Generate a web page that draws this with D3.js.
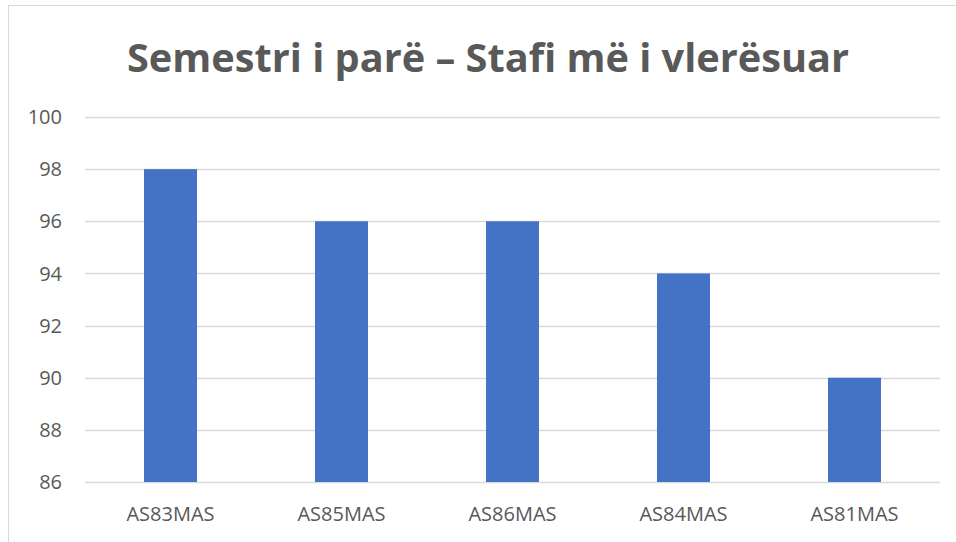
<!DOCTYPE html>
<html>
<meta charset="utf-8">
<head>
<style>
body { margin: 0; background: #fff; }
text { font-family: "Open Sans", "Noto Sans", sans-serif; fill: #595959; }
</style>
<script src="https://d3js.org/d3.v7.min.js"></script>
</head>
<body>
  <svg width="956" height="542"></svg>
  <script>
  var staff = ["AS83MAS", "AS85MAS", "AS86MAS", "AS84MAS", "AS81MAS"];
  var scores = [98, 96, 96, 94, 90];
  var yTicks = [86, 88, 90, 92, 94, 96, 98, 100];
  var title = "Semestri i parë – Stafi më i vlerësuar";

  var svg = d3.select("svg");

  // chart frame
  svg.append("rect")
      .attr("x", 8.5).attr("y", 5.5)
      .attr("width", 960).attr("height", 560)
      .attr("fill", "#fff")
      .attr("stroke", "#d9d9d9");

  var x = d3.scaleBand()
      .domain(staff)
      .range([85, 940])
      .paddingInner(0.69)
      .paddingOuter(0.345);

  var y = d3.scaleLinear()
      .domain([86, 100])
      .range([482, 117]);

  svg.append("g").selectAll("line")
    .data(yTicks)
    .enter().append("line")
      .attr("x1", 85).attr("x2", 940)
      .attr("y1", function(d) { return Math.round(y(d)) + 0.5; })
      .attr("y2", function(d) { return Math.round(y(d)) + 0.5; })
      .attr("stroke", "#d9d9d9")
      .attr("stroke-width", 1.5);

  svg.append("g").selectAll("rect")
    .data(scores)
    .enter().append("rect")
      .attr("x", function(d, i) { return x(staff[i]); })
      .attr("y", function(d) { return y(d); })
      .attr("width", x.bandwidth())
      .attr("height", function(d) { return y(86) - y(d); })
      .attr("fill", "#4472c4");

  svg.append("g").selectAll("text")
    .data(yTicks)
    .enter().append("text")
      .attr("x", 62)
      .attr("y", function(d) { return y(d); })
      .attr("dy", "0.36em")
      .attr("text-anchor", "end")
      .style("font-size", "20px")
      .text(function(d) { return d; });

  svg.append("g").selectAll("text")
    .data(staff)
    .enter().append("text")
      .attr("x", function(d) { return x(d) + x.bandwidth() / 2; })
      .attr("y", 521)
      .attr("text-anchor", "middle")
      .style("font-size", "20px")
      .text(function(d) { return d; });

  svg.append("text")
      .attr("x", 488)
      .attr("y", 72)
      .attr("text-anchor", "middle")
      .attr("textLength", 722)
      .attr("lengthAdjust", "spacingAndGlyphs")
      .style("font-size", "40px")
      .style("font-weight", "bold")
      .text(title);
  </script>
</body>
</html>
